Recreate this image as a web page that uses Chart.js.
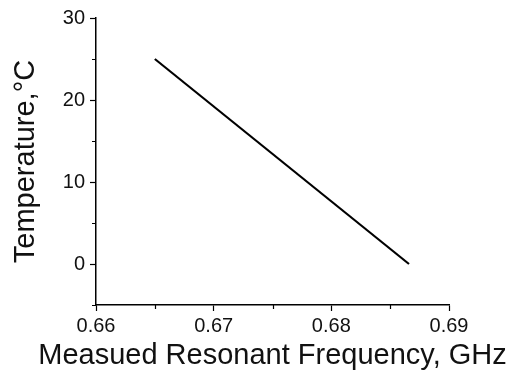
<!DOCTYPE html>
<html>
<head>
<meta charset="utf-8">
<script src="https://cdn.jsdelivr.net/npm/chart.js@4.4.0/dist/chart.umd.min.js"></script>
<style>
  html, body { margin: 0; padding: 0; background: #fff; }
  #wrap { width: 515px; height: 372px; }
</style>
</head>
<body>
<div id="wrap"><canvas id="myChart" width="515" height="372"></canvas></div>
<script>
// fitted line
const freqGHz = [0.665, 0.6866];
const tempC = [25, 0];

const xMajor = [0.66, 0.67, 0.68, 0.69];
const xMinor = [0.665, 0.675, 0.685];
const yMajor = [0, 10, 20, 30];
const yMinor = [-5, 5, 15, 25];

const xTitle = 'Measued Resonant Frequency, GHz';
const yTitle = 'Temperature,\u00B0C';

const FONT = 'Liberation Sans, Arial, sans-serif';

// outward minor ticks + x title (the built-in title gets squeezed to the axis width)
const extras = {
    id: 'extras',
    afterDraw(c) {
        const ctx = c.ctx, xs = c.scales.x, ys = c.scales.y;
        ctx.save();
        ctx.strokeStyle = '#000';
        ctx.lineWidth = 1.2;
        ctx.beginPath();
        xMinor.forEach(v => {
            const px = Math.round(xs.getPixelForValue(v)) + 0.5;
            ctx.moveTo(px, ys.bottom);
            ctx.lineTo(px, ys.bottom + 4);
        });
        yMinor.forEach(v => {
            const py = Math.round(ys.getPixelForValue(v)) + 0.5;
            ctx.moveTo(xs.left, py);
            ctx.lineTo(xs.left - 4, py);
        });
        ctx.stroke();

        ctx.fillStyle = '#111';
        ctx.font = '29px ' + FONT;
        ctx.textAlign = 'center';
        ctx.textBaseline = 'alphabetic';
        ctx.fillText(xTitle, (xs.left + xs.right) / 2, 364);
        ctx.restore();
    }
};

const ctx = document.getElementById('myChart').getContext('2d');
const chart = new Chart(ctx, {
    type: 'scatter',
    data: {
        datasets: [{
            data: freqGHz.map((f, i) => ({ x: f, y: tempC[i] })),
            showLine: true,
            borderColor: '#000',
            borderWidth: 2.2,
            pointRadius: 0,
            fill: false
        }]
    },
    options: {
        responsive: false,
        animation: false,
        layout: { padding: { left: 0, right: 66, top: 18, bottom: 0 } },
        plugins: { legend: { display: false }, tooltip: { enabled: false } },
        scales: {
            x: {
                type: 'linear',
                min: 0.66, max: 0.69,
                afterBuildTicks: s => { s.ticks = xMajor.map(v => ({ value: v })); },
                afterFit: s => { s.height = 67; },
                ticks: {
                    color: '#111', font: { family: FONT, size: 20 }, padding: 3,
                    maxRotation: 0, callback: v => v.toFixed(2)
                },
                grid: { drawOnChartArea: false, drawTicks: true, tickLength: 6, tickColor: '#000', tickWidth: 1.2 },
                border: { display: true, color: '#000', width: 1.5 },
                title: { display: false }
            },
            y: {
                type: 'linear',
                min: -5, max: 30,
                afterBuildTicks: s => { s.ticks = yMajor.map(v => ({ value: v })); },
                afterFit: s => { s.width = 96; },
                ticks: { color: '#111', font: { family: FONT, size: 20 }, padding: 5 },
                grid: { drawOnChartArea: false, drawTicks: true, tickLength: 6, tickColor: '#000', tickWidth: 1.2 },
                border: { display: true, color: '#000', width: 1.5 },
                title: {
                    display: true, text: yTitle,
                    color: '#111', font: { family: FONT, size: 29 }, padding: { top: 9, bottom: 0 }
                }
            }
        }
    },
    plugins: [extras]
});
</script>
</body>
</html>
